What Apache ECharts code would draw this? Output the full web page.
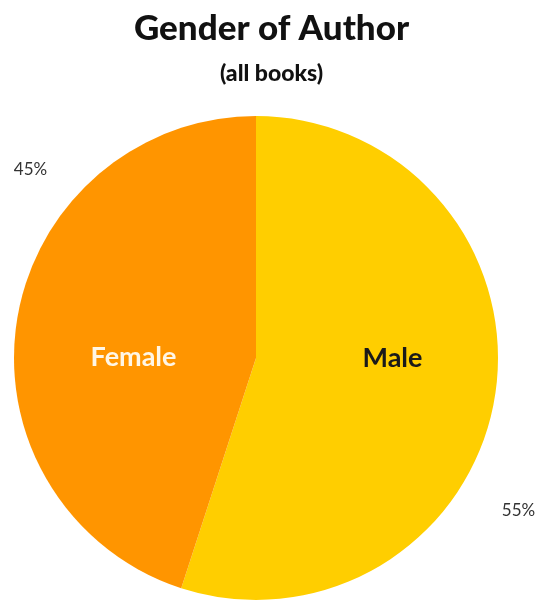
<!DOCTYPE html>
<html>
<head>
<meta charset="utf-8">
<script src="https://cdn.jsdelivr.net/npm/echarts@6/dist/echarts.min.js"></script>
<style>html,body{margin:0;padding:0;background:#fff}#c{width:543px;height:601px}</style>
</head>
<body>
<div id="c"></div>
<script>
var categories = ['Male', 'Female'];
var values = [55, 45];
var colors = ['#FFCE00', '#FF9500'];
var innerLabelColors = ['#1a1a1a', '#FFF6E6'];
var percentLabels = ['55%', '45%'];

var chart = echarts.init(document.getElementById('c'), null, {renderer: 'canvas'});
var FONT = 'Lato';
var mainData = categories.map(function (c, i) {
  return {
    name: c, value: values[i],
    itemStyle: {color: colors[i]},
    label: {color: innerLabelColors[i], offset: i === 0 ? [14, -19] : [0, 19]}
  };
});
var outerData = categories.map(function (c, i) {
  return {
    name: c, value: values[i],
    label: {offset: i === 0 ? [140, 133] : [-103, -169]}
  };
});
chart.setOption({
  animation: false,
  title: [{
    text: 'Gender of Author',
    left: 'center', top: 6,
    textStyle: {fontFamily: FONT, fontWeight: 900, fontSize: 35, color: '#111'}
  }, {
    text: '(all books)',
    left: 'center', top: 57,
    textStyle: {fontFamily: FONT, fontWeight: 900, fontSize: 23, color: '#111'}
  }],
  series: [{
    type: 'pie',
    center: [256, 358],
    radius: [0, 242],
    startAngle: 90,
    clockwise: true,
    silent: true,
    label: {
      show: true, position: 'inner',
      fontFamily: FONT, fontWeight: 'bold', fontSize: 27,
      formatter: '{b}'
    },
    labelLine: {show: false},
    data: mainData
  }, {
    type: 'pie',
    center: [256, 358],
    radius: [0, 242],
    startAngle: 90,
    clockwise: true,
    silent: true,
    itemStyle: {color: 'rgba(0,0,0,0)'},
    label: {
      show: true, position: 'inner',
      fontFamily: FONT, fontSize: 17, color: '#333',
      formatter: function (p) { return percentLabels[p.dataIndex]; }
    },
    labelLine: {show: false},
    data: outerData
  }]
});
</script>
</body>
</html>
